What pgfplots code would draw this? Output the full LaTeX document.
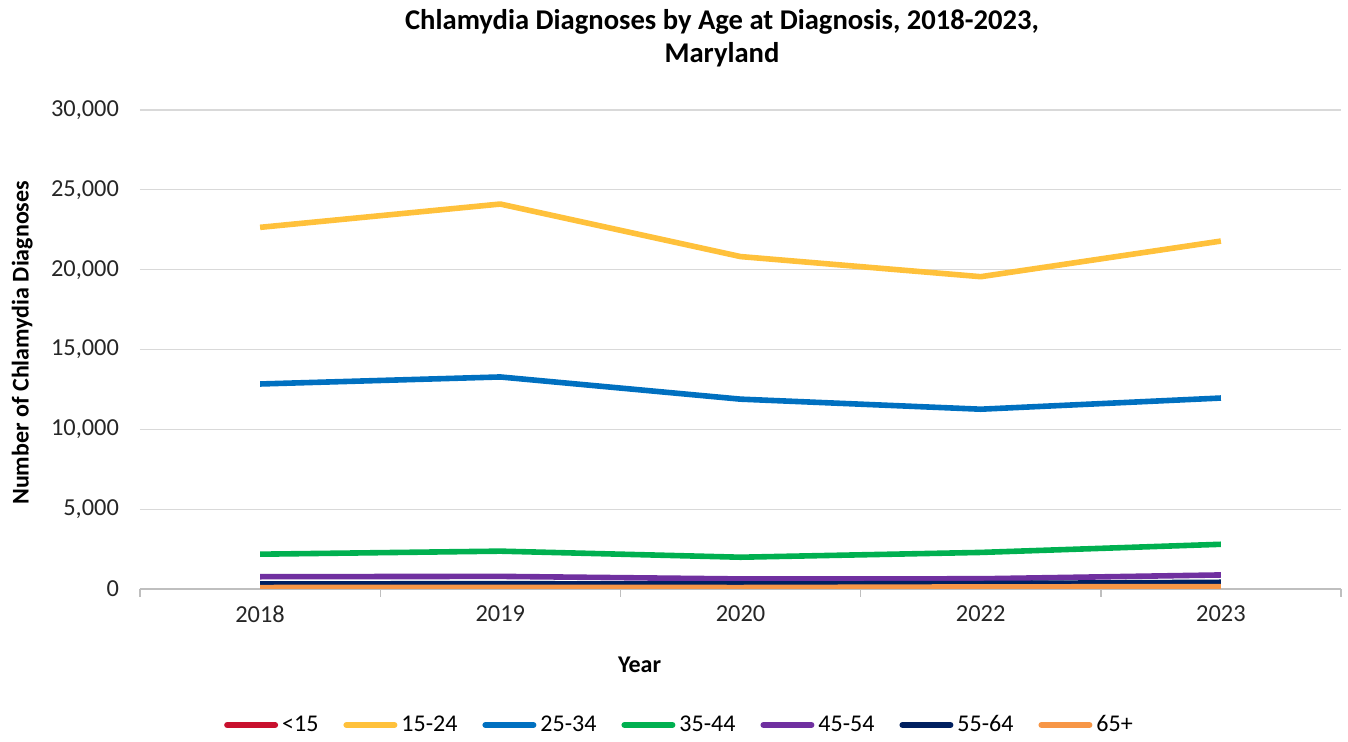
\documentclass[border=0pt]{standalone}
\usepackage{pgfplots}
\pgfplotsset{compat=1.18}
\usepackage{fontspec}
\setmainfont{Carlito}
\definecolor{cU15}{HTML}{C8102E}
\definecolor{c1524}{HTML}{FFC13B}
\definecolor{c2534}{HTML}{0070C0}
\definecolor{c3544}{HTML}{00B050}
\definecolor{c4554}{HTML}{7030A0}
\definecolor{c5564}{HTML}{002060}
\definecolor{c65}{HTML}{F79646}
\definecolor{gridc}{HTML}{D9D9D9}
\definecolor{axc}{HTML}{BFBFBF}
\begin{document}
\begin{tikzpicture}
\path[use as bounding box] (-70pt,-76.5pt) rectangle (604pt,294.5pt);
\begin{axis}[
  at={(0,0)}, anchor=south west,
  scale only axis, width=600.5pt, height=239.5pt,
  xmin=-0.5, xmax=4.5, ymin=0, ymax=30000,
  xtick={0,1,2,3,4},
  xticklabels={2018,2019,2020,2022,2023},
  extra x ticks={-0.5,0.5,1.5,2.5,3.5,4.5},
  extra x tick labels={},
  extra x tick style={major tick length=4pt, tick style={axc, line width=0.7pt}, tick align=outside, grid=none},
  major tick length=0pt,
  ytick={0,5000,10000,15000,20000,25000,30000},
  ymajorgrids, grid style={gridc, line width=0.6pt},
  axis x line*=bottom, axis y line*=left,
  x axis line style={axc, line width=0.8pt, -},
  y axis line style={draw=none},
  scaled y ticks=false,
  /pgf/number format/1000 sep={,},
  /pgf/number format/assume math mode=true,
  tick label style={font=\fontsize{12.2}{14}\selectfont, text=black!85},
  yticklabel style={xshift=-7pt},
  xticklabel style={yshift=-5pt},
  xlabel={Year}, xlabel style={font=\bfseries\fontsize{12}{14}\selectfont, at={(axis description cs:0.416,0)}, anchor=center, yshift=-38pt},
  ylabel={Number of Chlamydia Diagnoses}, ylabel style={font=\bfseries\fontsize{12}{14}\selectfont, at={(axis description cs:-0.098,0.514)}, anchor=center},
  title={Chlamydia Diagnoses by Age at Diagnosis, 2018-2023,\\Maryland},
  title style={font=\bfseries\fontsize{14.3}{16.5}\selectfont, align=center, at={(axis description cs:0.4846,1)}, anchor=south, yshift=12pt},
  legend style={at={(axis description cs:0.45,0)}, anchor=center, yshift=-68pt, draw=none, font=\fontsize{12}{14}\selectfont, legend columns=-1, /tikz/every even column/.append style={column sep=10.5pt}},
  legend image code/.code={\draw[#1, line width=3pt, line cap=round] (0pt,0pt) -- (24pt,0pt);},
  every axis plot/.append style={line width=2.8pt, line join=round, no markers},
]
\addplot[cU15] coordinates {(0,220) (1,230) (2,190) (3,260) (4,360)};
\addlegendentry{<15}
\addplot[c1524] coordinates {(0,22650) (1,24110) (2,20820) (3,19560) (4,21790)};
\addlegendentry{15-24}
\addplot[c2534] coordinates {(0,12840) (1,13280) (2,11890) (3,11260) (4,11960)};
\addlegendentry{25-34}
\addplot[c3544] coordinates {(0,2180) (1,2370) (2,1990) (3,2290) (4,2800)};
\addlegendentry{35-44}
\addplot[c4554] coordinates {(0,770) (1,790) (2,630) (3,640) (4,880)};
\addlegendentry{45-54}
\addplot[c5564] coordinates {(0,320) (1,330) (2,310) (3,340) (4,420)};
\addlegendentry{55-64}
\addplot[c65] coordinates {(0,90) (1,100) (2,90) (3,130) (4,150)};
\addlegendentry{65+}
\end{axis}
\end{tikzpicture}
\end{document}
